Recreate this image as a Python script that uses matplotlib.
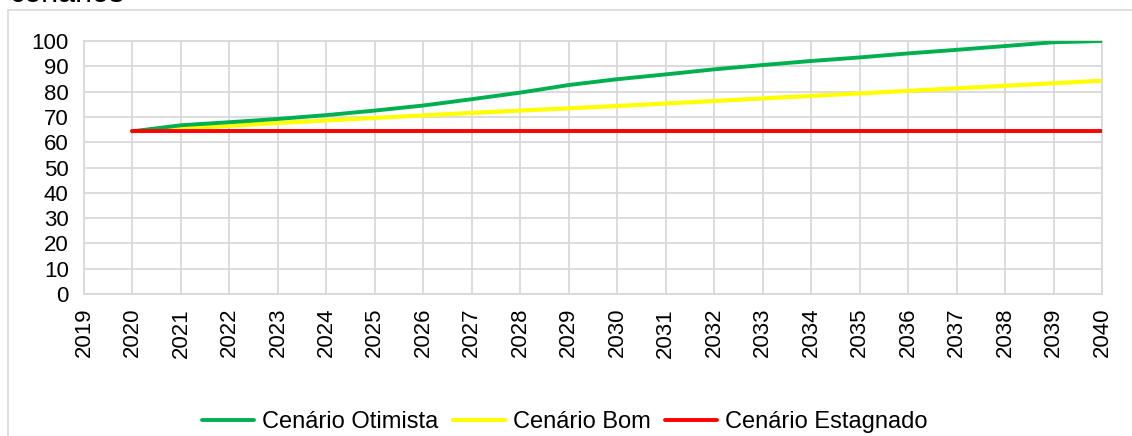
import numpy as np
import matplotlib.pyplot as plt
from matplotlib.patches import Rectangle

plt.rcParams['font.family'] = ['Liberation Sans', 'DejaVu Sans']

years = list(range(2020, 2041))
otimista = [64.3, 66.7, 67.9, 69.2, 70.7, 72.5, 74.5, 77.0, 79.6, 82.6, 84.9,
            86.8, 88.8, 90.5, 92.1, 93.5, 95.1, 96.5, 98.0, 99.5, 100.0]
bom = [64.3, 65.4, 66.5, 67.6, 68.6, 69.6, 70.6, 71.6, 72.5, 73.4, 74.3,
       75.3, 76.3, 77.3, 78.3, 79.3, 80.3, 81.3, 82.3, 83.3, 84.3]
estagnado = [64.3] * len(years)
xticks = list(range(2019, 2041))
yticks = list(range(0, 101, 10))

fig = plt.figure(figsize=(11.32, 4.36), dpi=100)
ax = fig.add_axes([84/1132, 1-294/436, (1102-84)/1132, (294-41)/436])

grid = '#d9d9d9'
ax.plot(years, otimista, color='#00b050', lw=2.8, label='Cenário Otimista', zorder=4, solid_capstyle='round')
ax.plot(years, bom, color='#ffff00', lw=3.0, label='Cenário Bom', zorder=3, solid_capstyle='round')
ax.plot(years, estagnado, color='#ff0000', lw=2.8, label='Cenário Estagnado', zorder=5, solid_capstyle='round')

ax.set_xlim(2019, 2040)
ax.set_ylim(0, 100)
ax.set_xticks(xticks)
ax.set_xticklabels([str(y) for y in xticks], rotation=90)
ax.set_yticks(yticks)
ax.tick_params(length=0, labelsize=16)
ax.tick_params(axis='y', pad=11)
ax.tick_params(axis='x', pad=10)
ax.grid(True, color=grid, lw=1.3)
ax.set_axisbelow(True)
for s in ax.spines.values():
    s.set_color(grid)
    s.set_linewidth(1.3)

# chart frame + cut-off title
fig.patches.append(Rectangle((8/1132, -0.01), 1.0, 1-10/436+0.01, transform=fig.transFigure,
                             fill=False, edgecolor=grid, lw=1.2))
fig.text(10/1132, 1-2.5/436, 'cenários', fontsize=22, va='baseline', ha='left')

fig.legend(loc='center', bbox_to_anchor=(0.499, 0.032), ncol=3, frameon=False,
           fontsize=17, handlelength=2.2, columnspacing=0.6, handletextpad=0.35)

fig.savefig('out.png', dpi=100)
